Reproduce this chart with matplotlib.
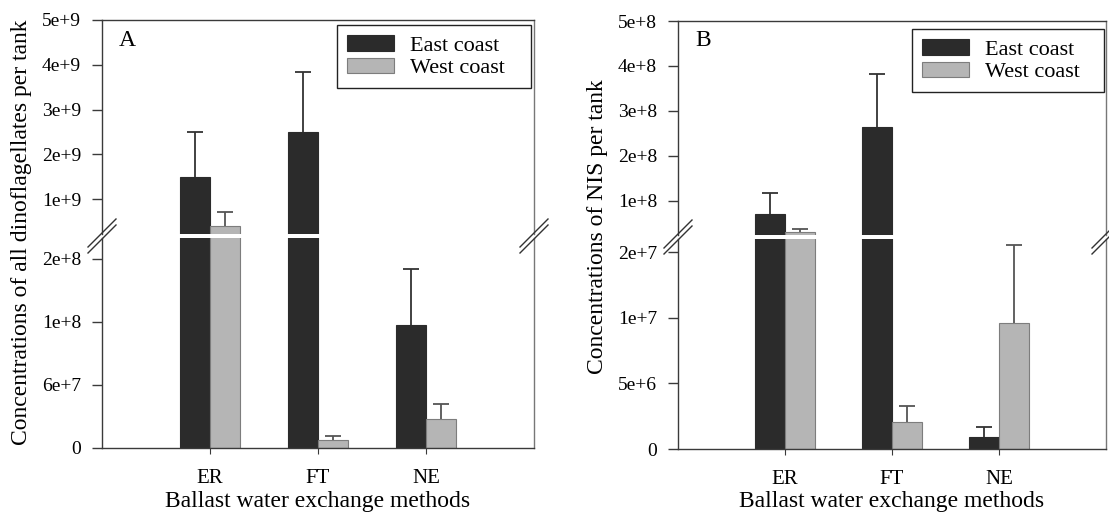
import numpy as np
import matplotlib
matplotlib.use('Agg')
import matplotlib.pyplot as plt
from matplotlib.lines import Line2D

plt.rcParams['font.family'] = ['Liberation Serif', 'DejaVu Serif']

methods = ['ER', 'FT', 'NE']
coasts = ['East coast', 'West coast']

# panel A - all dinoflagellates per tank (mean, upper error)
dino_east = [1.5e9, 2.5e9, 9.8e7]
dino_east_err = [1.0e9, 1.34e9, 8.6e7]
dino_west = [4.0e8, 7.6e6, 2.76e7]
dino_west_err = [3.1e8, 3.8e6, 1.44e7]

# panel B - NIS per tank
nis_east = [7.0e7, 2.65e8, 9.0e5]
nis_east_err = [4.8e7, 1.17e8, 8.0e5]
nis_west = [3.1e7, 2.06e6, 9.6e6]
nis_west_err = [0.65e7, 1.24e6, 1.15e7]

# tick labels as printed on the broken axes
upper_ticks_a = [1e9, 2e9, 3e9, 4e9, 5e9]
upper_labels_a = ['1e+9', '2e+9', '3e+9', '4e+9', '5e+9']
lower_ticks_a = [0, 6e7, 1e8, 2e8]
lower_labels_a = ['0', '6e+7', '1e+8', '2e+8']
upper_ticks_b = [1e8, 2e8, 3e8, 4e8, 5e8]
upper_labels_b = ['1e+8', '2e+8', '3e+8', '4e+8', '5e+8']
lower_ticks_b = [0, 5e6, 1e7, 2e7]
lower_labels_b = ['0', '5e+6', '1e+7', '2e+7']

EAST = '#2b2b2b'
WEST = '#b5b5b5'
WEST_EDGE = '#7d7d7d'
SPINE = '#3a3a3a'

W, H = 1109, 517
fig = plt.figure(figsize=(W / 100, H / 100), dpi=100)


def px_axes(left, right, top, bottom):
    return fig.add_axes([left / W, 1 - bottom / H, (right - left) / W, (bottom - top) / H])


def piecewise(ticks):
    # lower segment ticks are evenly spaced although the labels are not
    xs = np.array(ticks, float)
    us = np.arange(len(xs), dtype=float)
    step = xs[-1] - xs[-2]

    def fwd(y):
        y = np.asarray(y, float)
        return np.where(y > xs[-1], us[-1] + (y - xs[-1]) / step, np.interp(y, xs, us))

    def inv(u):
        u = np.asarray(u, float)
        return np.where(u > us[-1], xs[-1] + (u - us[-1]) * step, np.interp(u, us, xs))
    return fwd, inv


def up_errorbar(ax, x, y, err, color, floor):
    x, y, err = np.asarray(x), np.asarray(y, float), np.asarray(err, float)
    keep = y + err > floor          # skip bars whose whisker ends below this segment
    if not keep.any():
        return
    z = np.zeros(keep.sum())
    eb = ax.errorbar(x[keep], y[keep], yerr=[z, err[keep]], fmt='none', ecolor=color,
                     elinewidth=1.3, capsize=5.5, capthick=1.3)
    # keep only the top cap
    eb.lines[1][0].set_visible(False)


def draw_bars(ax, east, east_err, west, west_err, floor=0):
    x = np.arange(1, len(methods) + 1)
    w = 0.28
    b1 = ax.bar(x - w / 2, east, w, color=EAST, edgecolor=EAST, lw=0.8, label=coasts[0])
    b2 = ax.bar(x + w / 2, west, w, color=WEST, edgecolor=WEST_EDGE, lw=0.8, label=coasts[1])
    up_errorbar(ax, x - w / 2, east, east_err, '#333333', floor)
    up_errorbar(ax, x + w / 2, west, west_err, '#555555', floor)
    ax.set_xlim(0, 4)
    return b1, b2


def break_marks(xpx, ypx):
    for off in (-3, 3):
        for xp in xpx:
            fig.add_artist(Line2D([(xp - 14) / W, (xp + 14) / W],
                                  [1 - (ypx + 14 + off) / H, 1 - (ypx - 14 + off) / H],
                                  transform=fig.transFigure, color='#333333', lw=1.0))


def panel(box, east, east_err, west, west_err, up_lim, up_ticks, up_labels,
          lo_lim, lo_ticks, lo_labels, ylabel, ylab_pos, letter, leg_box):
    left, right, top, brk_top, brk_bot, bottom = box
    ax_up = px_axes(left, right, top, brk_top)
    ax_lo = px_axes(left, right, brk_bot, bottom)

    handles = draw_bars(ax_up, east, east_err, west, west_err, floor=up_lim[0])
    draw_bars(ax_lo, east, east_err, west, west_err)

    ax_up.set_ylim(*up_lim)
    ax_up.set_yticks(up_ticks, up_labels)
    ax_up.set_xticks([])
    ax_up.spines['bottom'].set_visible(False)

    ax_lo.set_yscale('function', functions=piecewise(lo_ticks))
    ax_lo.set_ylim(*lo_lim)
    ax_lo.set_yticks(lo_ticks, lo_labels)
    ax_lo.minorticks_off()
    ax_lo.set_xticks(range(1, len(methods) + 1), methods, fontsize=15)
    ax_lo.spines['top'].set_visible(False)
    ax_lo.tick_params(axis='x', length=4, pad=11, color=SPINE)

    for ax in (ax_up, ax_lo):
        for s in ax.spines.values():
            s.set_color(SPINE)
            s.set_linewidth(1.0)
        ax.spines['right'].set_color('#777777')
        ax.tick_params(axis='y', length=7, width=1.0, pad=8, labelsize=14, color=SPINE)

    ymid = (brk_top + brk_bot) / 2
    break_marks([left, right], ymid)

    fig.text(ylab_pos[0] / W, 1 - ylab_pos[1] / H, ylabel, rotation=90,
             ha='center', va='center', fontsize=17)
    fig.text((left + right) / 2 / W, 1 - 502 / H, 'Ballast water exchange methods',
             ha='center', va='center', fontsize=17)
    fig.text((left + 17) / W, 1 - 40 / H, letter, ha='left', va='center', fontsize=17)

    lx, ly, lw, lh = leg_box
    leg = ax_up.legend(handles=handles, loc='upper left', mode='expand',
                       bbox_to_anchor=(lx / W, 1 - (ly + lh) / H, lw / W, lh / H),
                       bbox_transform=fig.transFigure, borderaxespad=0, fontsize=16,
                       fancybox=False, framealpha=1, edgecolor='#222222',
                       handlelength=2.1, handleheight=0.7, handletextpad=0.75,
                       borderpad=0.45, labelspacing=0.1)
    leg.get_frame().set_linewidth(1.0)


panel((102, 534, 20, 234, 238, 448), dino_east, dino_east_err, dino_west, dino_west_err,
      (0.22e9, 5e9), upper_ticks_a, upper_labels_a,
      (0, 2.33e8), lower_ticks_a, lower_labels_a,
      'Concentrations of all dinoflagellates per tank', (22, 232), 'A', (337, 25, 194, 62))

panel((678, 1106, 21, 235, 239, 449), nis_east, nis_east_err, nis_west, nis_west_err,
      (2.4e7, 5e8), upper_ticks_b, upper_labels_b,
      (0, 2.2e7), lower_ticks_b, lower_labels_b,
      'Concentrations of NIS per tank', (597, 227), 'B', (912, 29, 192, 63))

fig.savefig('out.png', dpi=100, facecolor='white')
